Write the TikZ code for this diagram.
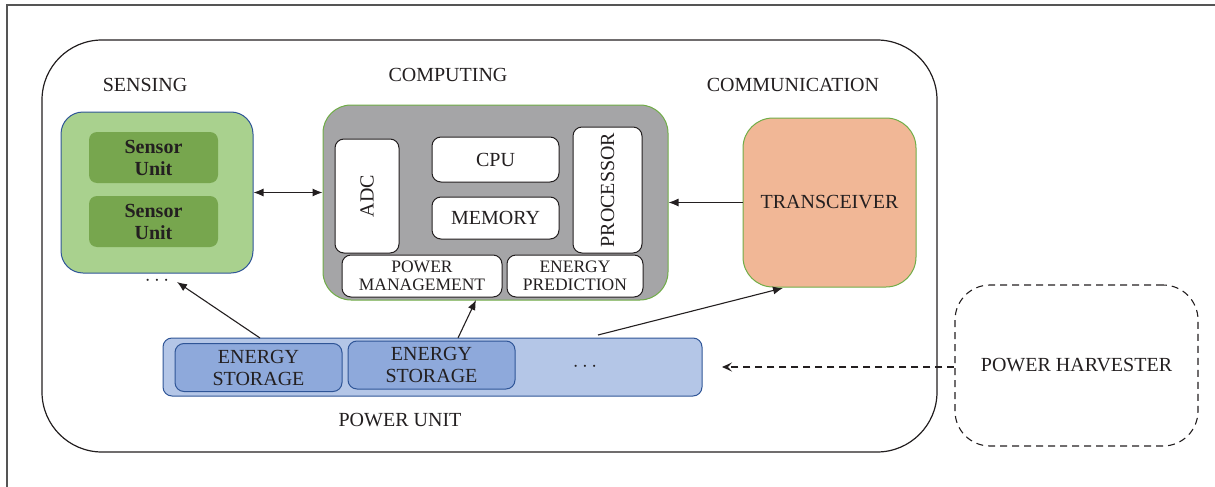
\documentclass[tikz,border=0pt]{standalone}
\usepackage{fontspec}
\setmainfont{Liberation Serif}
\usetikzlibrary{arrows.meta,calc}
\definecolor{txt}{HTML}{231F20}
\definecolor{sensfill}{HTML}{A9D18E}
\definecolor{sensunit}{HTML}{77A64E}
\definecolor{blueb}{HTML}{2F5597}
\definecolor{compfill}{HTML}{A5A5A7}
\definecolor{greenb}{HTML}{70AD47}
\definecolor{transfill}{HTML}{F1B796}
\definecolor{pufill}{HTML}{B4C6E7}
\definecolor{esfill}{HTML}{8EA9DB}
\definecolor{framec}{HTML}{555555}
\tikzset{
  every node/.style={text=txt, inner sep=0pt, align=center, font=\fontsize{20}{22}\selectfont},
  box/.style={draw, rectangle, line width=1pt},
  whitebox/.style={box, fill=white, draw=txt, line width=1pt, rounded corners=9pt},
  smalltxt/.style={font=\fontsize{17.5}{18}\selectfont},
  arr/.style={line width=1.1pt, draw=txt, -{Latex[length=10pt,width=8pt]}},
  darr/.style={line width=1.1pt, draw=txt, {Latex[length=10pt,width=8pt]}-{Latex[length=10pt,width=8pt]}},
  dasharr/.style={line width=1.1pt, draw=txt, dash pattern=on 7pt off 5pt, -{Stealth[length=10pt,width=9pt,inset=4pt]}},
}
\begin{document}
\begin{tikzpicture}[x=1pt,y=-1pt]
\useasboundingbox (0,0) rectangle (1215,487);
% frame
\draw[framec, line width=2pt] (7,487) -- (7,5) -- (1215,5);
% outer system box
\node[box, draw=txt, line width=1.2pt, rounded corners=60pt, minimum width=895pt, minimum height=412pt] (sys) at (489.5,246) {};
% labels
\node (lsens) at (145,85) {SENSING};
\node (lcomp) at (448,75) {COMPUTING};
\node (lcomm) at (793,85) {COMMUNICATION};
% sensing
\node[box, fill=sensfill, draw=blueb, rounded corners=22pt, minimum width=192pt, minimum height=161pt] (sens) at (157,192.5) {};
\node[fill=sensunit, rounded corners=8pt, minimum width=129pt, minimum height=51pt, font=\bfseries\fontsize{20}{22}\selectfont] (su1) at (153.5,157.5) {Sensor\\Unit};
\node[fill=sensunit, rounded corners=8pt, minimum width=129pt, minimum height=51pt, font=\bfseries\fontsize{20}{22}\selectfont] (su2) at (153.5,221.5) {Sensor\\Unit};
\node (sdots) at (157,281) {$\cdots$};
% computing
\node[box, fill=compfill, draw=greenb, rounded corners=28pt, minimum width=345pt, minimum height=195pt] (comp) at (495.5,202.5) {};
\node[whitebox, minimum width=64pt, minimum height=114pt] (adc) at (367,196) {};
\node[rotate=90] (adct) at (adc.center) {ADC};
\node[whitebox, minimum width=127pt, minimum height=45pt] (cpu) at (495.5,159.5) {CPU};
\node[whitebox, minimum width=127pt, minimum height=42pt] (mem) at (495.5,218) {MEMORY};
\node[whitebox, minimum width=69pt, minimum height=126pt] (proc) at (607.5,190) {};
\node[rotate=90] (proct) at (proc.center) {PROCESSOR};
\node[whitebox, smalltxt, minimum width=160pt, minimum height=42pt] (pm) at (422,276) {POWER\\MANAGEMENT};
\node[whitebox, smalltxt, minimum width=136pt, minimum height=42pt] (ep) at (575,276) {ENERGY\\PREDICTION};
% communication
\node[box, fill=transfill, draw=greenb, rounded corners=30pt, minimum width=173pt, minimum height=169pt] (trans) at (829.5,202.5) {TRANSCEIVER};
% power unit
\node[box, fill=pufill, draw=blueb, rounded corners=9pt, minimum width=539pt, minimum height=58pt] (pu) at (432.5,367) {};
\node[box, fill=esfill, draw=blueb, rounded corners=9pt, minimum width=167pt, minimum height=48pt] (es1) at (258.5,367.5) {ENERGY\\STORAGE};
\node[box, fill=esfill, draw=blueb, rounded corners=9pt, minimum width=167pt, minimum height=48pt] (es2) at (431.5,365) {ENERGY\\STORAGE};
\node (pdots) at (585,367) {$\cdots$};
\node (lpu) at (400,420) {POWER UNIT};
% harvester
\node[box, draw=txt, line width=1.1pt, dash pattern=on 7pt off 5pt, rounded corners=35pt, minimum width=243pt, minimum height=161pt] (harv) at (1076.5,365.5) {POWER HARVESTER};
% connectors
\draw[darr] (sens.east) -- (sens.east -| comp.west);
\draw[arr] (trans.west) -- (comp.east);
\coordinate (pa) at (260,338);
\coordinate (pb) at (458,338);
\coordinate (pc) at (598,335);
\coordinate (ta) at (177,282);
\coordinate (tb) at (476,300);
\coordinate (tc) at (783,288);
\draw[arr] (pa) -- (ta);
\draw[arr] (pb) -- (tb);
\draw[arr] (pc) -- (tc);
\coordinate (dtip) at (722,367);
\draw[dasharr] (harv.west |- dtip) -- (dtip);
\end{tikzpicture}
\end{document}
